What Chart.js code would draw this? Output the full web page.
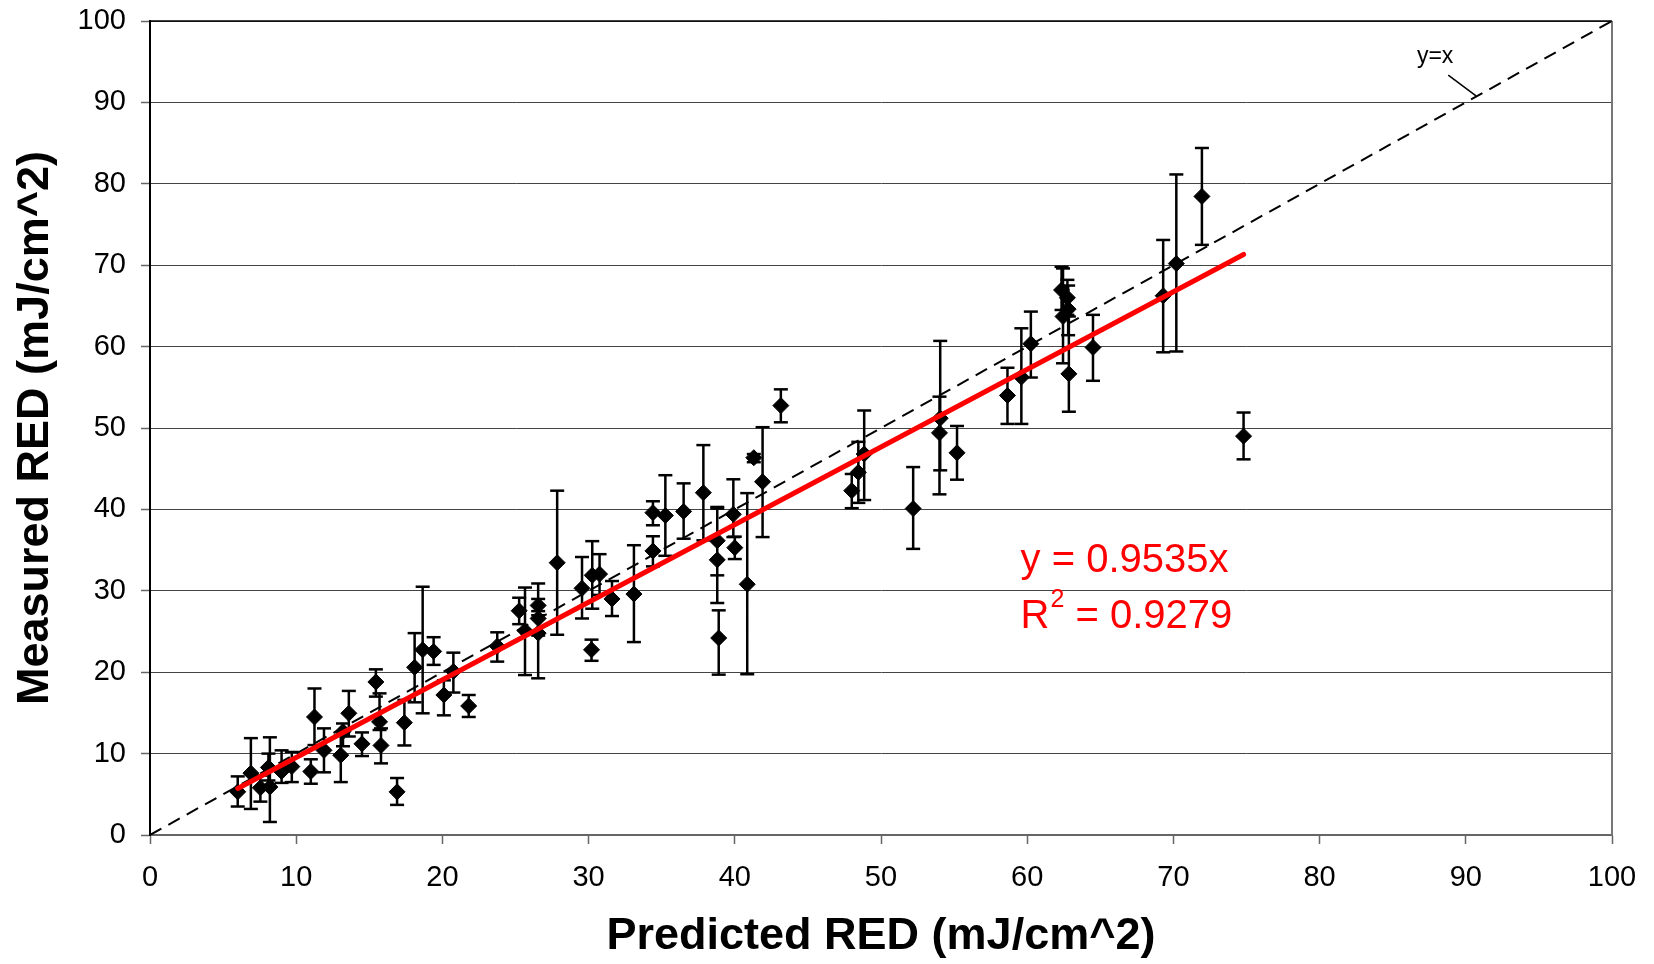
<!DOCTYPE html>
<html>
<head>
<meta charset="utf-8">
<script src="https://cdn.jsdelivr.net/npm/chart.js@4/dist/chart.umd.min.js"></script>
<style>
html,body{margin:0;padding:0;background:#fff;}
canvas{display:block;}
</style>
</head>
<body>
<canvas id="c" width="1654" height="964"></canvas>
<script>
// ---- data ----
const predicted = [6.0,6.9,7.55,8.2,8.1,9.0,9.7,11.0,11.25,11.9,13.05,13.2,13.6,14.5,15.45,15.7,15.8,16.9,17.4,18.1,18.65,19.4,20.1,20.75,21.8,23.75,
  25.25,25.65,26.55,26.55,26.55,27.85,29.55,30.2,30.25,30.75,31.6,33.1,34.4,34.4,35.25,36.5,37.85,38.8,38.8,38.9,39.9,40.0,40.85,41.3,41.9,43.15,
  48.0,48.45,48.85,52.2,54.0,54.05,55.2,58.65,59.6,60.25,62.35,62.75,62.8,62.45,62.85,64.5,69.3,70.2,71.95,74.8];
const measured = [5.3,7.6,5.8,5.9,8.3,7.8,8.4,7.8,14.5,10.4,9.8,12.7,14.95,11.2,18.8,13.9,11.0,5.3,13.8,20.6,22.75,22.55,17.2,20.1,15.85,23.2,
  27.55,25.1,28.2,26.6,24.8,33.45,30.3,22.75,31.9,32.05,29.0,29.6,34.9,39.6,39.25,39.75,42.05,36.15,33.8,24.2,39.4,35.3,30.8,46.35,43.4,52.75,
  42.3,44.55,46.8,40.1,49.4,51.2,46.95,54.0,56.25,60.35,66.95,66.0,64.6,63.7,56.65,59.9,66.25,70.2,78.45,49.0];
const errHigh = [7.2,11.9,7.3,12.0,10.0,10.4,10.2,9.3,18.0,13.1,12.3,13.7,17.7,12.6,20.35,17.4,13.1,7.0,16.6,24.8,30.5,24.3,19.0,22.4,17.2,24.9,
  29.15,30.4,30.9,29.0,27.5,42.3,34.15,24.0,36.1,34.5,31.2,35.6,36.7,41.0,44.2,43.2,47.9,40.3,40.1,27.6,43.7,36.65,42.0,46.8,50.1,54.75,
  44.35,48.3,52.15,45.2,53.85,60.7,50.25,57.4,62.25,64.3,69.8,68.2,67.5,69.6,63.7,63.9,73.1,81.15,84.4,51.9];
const errLow = [3.5,3.2,4.1,1.6,6.7,6.4,6.5,6.3,11.05,7.7,6.5,10.9,12.1,9.7,17.0,12.9,8.8,3.7,11.0,16.3,14.95,20.9,14.7,17.5,14.5,21.3,
  25.9,19.65,27.0,24.5,19.25,24.6,26.6,21.4,27.8,29.5,26.9,23.7,33.0,38.05,34.3,36.4,36.2,31.9,28.5,19.7,36.6,33.9,19.75,45.8,36.6,50.7,
  40.15,40.8,41.15,35.15,41.85,44.8,43.65,50.5,50.5,56.2,64.5,63.9,61.4,57.95,52.0,55.8,59.3,59.4,72.5,46.15];
const trendX = [6.0, 74.8];
const trendY = [5.72, 71.32];
const identityX = [0, 100];
const identityY = [0, 100];
const xTickLabels = ['0','10','20','30','40','50','60','70','80','90','100'];
const yTickLabels = ['0','10','20','30','40','50','60','70','80','90','100'];
const eqLine1 = 'y = 0.9535x';
const eqLine2Pre = 'R';
const eqLine2Sup = '2';
const eqLine2Post = ' = 0.9279';
const identityLabel = 'y=x';

// ---- build datasets ----
const FAMILY = '"Liberation Sans", Arial, Helvetica, sans-serif';
const points = predicted.map((x, i) => ({x: x, y: measured[i]}));
const errData = [];
predicted.forEach((x, i) => {
  errData.push({x: x, y: errLow[i]});
  errData.push({x: x, y: errHigh[i]});
  errData.push({x: x, y: null});
});
const trendPts = trendX.map((x, i) => ({x: x, y: trendY[i]}));
const identityPts = identityX.map((x, i) => ({x: x, y: identityY[i]}));

const decor = {
  id: 'decor',
  beforeDatasetsDraw(chart) {
    const {ctx, chartArea: a} = chart;
    ctx.save();
    ctx.strokeStyle = '#777';
    ctx.lineWidth = 2;
    ctx.beginPath();
    ctx.moveTo(a.right, a.top);
    ctx.lineTo(a.right, a.bottom);
    ctx.stroke();
    ctx.strokeStyle = '#000';
    ctx.lineWidth = 1.5;
    ctx.beginPath();
    ctx.moveTo(a.left, a.top);
    ctx.lineTo(a.right, a.top);
    ctx.stroke();
    ctx.restore();
  },
  afterDraw(chart) {
    const {ctx} = chart;
    const xs = chart.scales.x, ys = chart.scales.y;
    ctx.save();
    // y=x label and leader
    ctx.fillStyle = '#000';
    ctx.font = '23px ' + FAMILY;
    ctx.textAlign = 'center';
    ctx.textBaseline = 'alphabetic';
    ctx.fillText(identityLabel, xs.getPixelForValue(87.9), ys.getPixelForValue(94.85));
    ctx.strokeStyle = '#000';
    ctx.lineWidth = 1.5;
    ctx.beginPath();
    ctx.moveTo(xs.getPixelForValue(88.8), ys.getPixelForValue(93.35));
    ctx.lineTo(xs.getPixelForValue(90.7), ys.getPixelForValue(90.8));
    ctx.stroke();
    // equation
    ctx.fillStyle = '#ff0000';
    ctx.textAlign = 'left';
    ctx.font = '40px ' + FAMILY;
    const ex = xs.getPixelForValue(59.55);
    ctx.fillText(eqLine1, ex, ys.getPixelForValue(32.35));
    const b2 = ys.getPixelForValue(25.4);
    ctx.fillText(eqLine2Pre, ex, b2);
    let w = ctx.measureText(eqLine2Pre).width;
    ctx.font = '25px ' + FAMILY;
    ctx.fillText(eqLine2Sup, ex + w + 1, b2 - 21);
    w += ctx.measureText(eqLine2Sup).width + 1;
    ctx.font = '40px ' + FAMILY;
    ctx.fillText(eqLine2Post, ex + w, b2);
    ctx.restore();
  }
};

new Chart(document.getElementById('c'), {
  type: 'scatter',
  data: {
    datasets: [
      {type: 'line', label: 'trend', data: trendPts, borderColor: '#ff0000', borderWidth: 5,
       pointRadius: 0, borderCapStyle: 'round', order: 0},
      {type: 'scatter', label: 'measured', data: points, pointStyle: 'rectRot', pointRadius: 8,
       backgroundColor: '#000', borderColor: '#000', borderWidth: 1, order: 1},
      {type: 'line', label: 'err', data: errData, borderColor: '#000', borderWidth: 2.5,
       pointStyle: 'line', pointRadius: 7, pointBorderWidth: 2.5, pointBorderColor: '#000',
       spanGaps: false, order: 2},
      {type: 'line', label: 'identity', data: identityPts, borderColor: '#000', borderWidth: 2,
       borderDash: [13, 8], pointRadius: 0, order: 3}
    ]
  },
  options: {
    responsive: false,
    animation: false,
    devicePixelRatio: 1,
    layout: {padding: {top: 21, right: 42, left: 0, bottom: 0}},
    plugins: {legend: {display: false}, tooltip: {enabled: false}},
    scales: {
      x: {
        type: 'linear', min: 0, max: 100,
        ticks: {stepSize: 10, color: '#000', padding: 17, font: {size: 29, family: FAMILY},
                callback: (v, i) => xTickLabels[i]},
        grid: {drawOnChartArea: false, drawTicks: true, tickLength: 9, tickColor: '#666', tickWidth: 1.5},
        border: {color: '#666', width: 2},
        title: {display: true, text: 'Predicted RED (mJ/cm^2)', color: '#000', padding: 0,
                font: {size: 45, weight: 'bold', family: FAMILY}},
        afterFit: s => { s.height = 129; s.paddingLeft = 0; s.paddingRight = 0; }
      },
      y: {
        type: 'linear', min: 0, max: 100,
        ticks: {stepSize: 10, color: '#000', padding: 15, font: {size: 29, family: FAMILY},
                callback: (v, i) => yTickLabels[i]},
        grid: {color: '#444', lineWidth: 1, tickLength: 9, tickColor: '#666', tickWidth: 1.5},
        border: {color: '#000', width: 2},
        title: {display: true, text: 'Measured RED (mJ/cm^2)', color: '#000', padding: {top: 9, bottom: 0},
                font: {size: 45, weight: 'bold', family: FAMILY}},
        afterFit: s => { s.width = 150; s.paddingTop = 0; s.paddingBottom = 0; }
      }
    }
  },
  plugins: [decor]
});
</script>
</body>
</html>
